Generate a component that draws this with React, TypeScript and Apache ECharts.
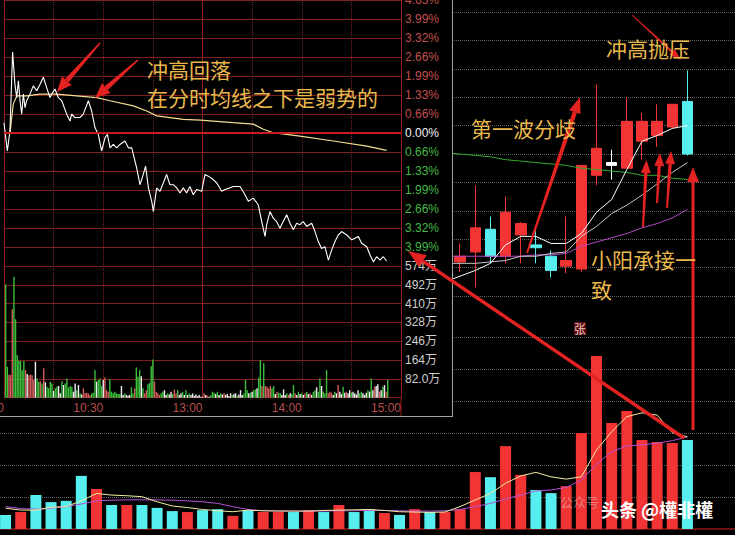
import React, { useEffect, useRef } from 'react';
import * as echarts from 'echarts';

// ================= intraday (分时) data =================
const timeTickLabels = ['09:30', '10:30', '13:00', '14:00', '15:00'];
// from bottom (min) to top (max); the bottom one is hidden (volume label sits there)
const pctTickLabels = ['', '3.99%', '3.32%', '2.66%', '1.99%', '1.33%', '0.66%', '0.00%', '0.66%', '1.33%', '1.99%', '2.66%', '3.32%', '3.99%', '4.65%'];
const volTickLabels = ['', '82.0万', '164万', '246万', '328万', '410万', '492万', '574万'];

const intraPriceMinutes = [0, 2.0, 3.6, 5.2, 6.6, 7.7, 8.7, 9.7, 10.7, 11.7, 12.7, 13.7, 15.7, 17.7, 19.8, 21.8, 23.8, 25.8, 27.8, 28.8, 30.8, 32.8, 34.9, 37.9, 39.9, 40.9, 42.9, 45.9, 47.9, 51.0, 53.0, 55.0, 57.0, 59.0, 61.1, 62.5, 64.1, 66.1, 68.1, 70.1, 73.1, 75.2, 77.2, 80.2, 82.2, 84.2, 85.6, 87.3, 89.3, 90.3, 92.3, 94.3, 96.3, 98.3, 100.3, 102.4, 104.4, 106.4, 108.4, 110.4, 112.4, 114.4, 116.5, 119.5, 121.5, 123.5, 126.5, 128.6, 131.6, 133.6, 136.6, 138.6, 142.7, 145.7, 147.7, 150.7, 153.7, 155.8, 157.8, 158.8, 160.8, 162.8, 164.8, 166.8, 168.8, 170.9, 172.9, 174.9, 176.9, 178.9, 180.9, 183.0, 186.0, 188.0, 190.0, 192.0, 194.0, 196.1, 198.1, 200.1, 202.1, 204.1, 207.2, 210.2, 212.2, 214.2, 216.2, 219.3, 221.3, 223.3, 225.3, 227.3, 229.3, 231.3];
const intraPricePct = [0.36, -0.63, 0.07, 2.83, 1.71, 1.24, 1.83, 1.13, 0.66, 1.36, 0.89, 1.13, 1.36, 1.65, 1.48, 1.71, 1.95, 1.59, 1.24, 1.36, 1.54, 1.24, 1.13, 0.66, 0.42, 0.66, 0.54, 0.54, 0.66, 1.13, 0.77, 0.19, -0.05, -0.63, -0.16, -0.05, -0.52, -0.40, -0.52, -0.40, -0.28, -0.52, -0.52, -1.22, -1.81, -1.45, -1.16, -1.92, -2.39, -2.75, -1.92, -2.04, -1.75, -1.45, -1.81, -1.81, -1.92, -2.10, -1.92, -2.10, -1.87, -2.16, -1.98, -2.04, -1.45, -1.51, -1.63, -1.75, -2.04, -1.98, -1.92, -1.87, -1.87, -2.16, -2.39, -2.28, -2.51, -3.10, -3.62, -3.21, -2.75, -2.98, -3.10, -3.33, -3.10, -2.86, -3.16, -3.39, -3.16, -3.21, -3.10, -3.27, -3.16, -3.45, -3.80, -4.04, -3.98, -4.45, -4.09, -3.80, -3.57, -3.45, -3.57, -3.74, -3.68, -3.62, -3.86, -3.98, -4.27, -4.51, -4.33, -4.45, -4.33, -4.48];

const intraAvgMinutes = [3.6, 5.6, 7.7, 13.7, 21.8, 31.9, 43.9, 56.0, 64.1, 78.2, 86.3, 92.3, 108.4, 118.5, 138.6, 150.7, 156.8, 162.8, 178.9, 199.1, 219.3, 231.3];
const intraAvgPct = [0.0, 1.01, 1.30, 1.30, 1.36, 1.36, 1.30, 1.24, 1.13, 0.95, 0.77, 0.60, 0.48, 0.45, 0.36, 0.31, 0.13, 0.01, -0.11, -0.28, -0.46, -0.61];

// per-minute volume (万), minute 1..232
const intraVol = [
  494, 135, 100, 100, 385, 527, 342, 186, 161, 160, 120, 160, 120, 103, 98, 101, 98, 77, 157, 84,
  70, 72, 62, 128, 67, 48, 41, 70, 62, 29, 41, 48, 51, 19, 72, 55, 62, 84, 45, 51,
  48, 26, 62, 33, 55, 19, 14, 41, 19, 22, 19, 12, 19, 22, 120, 70, 77, 84, 51, 77,
  88, 33, 26, 80, 26, 19, 26, 19, 16, 16, 51, 12, 19, 12, 9, 12, 45, 19, 41,
  132, 91, 120, 94, 41, 19, 33, 59, 65, 137, 166, 70, 26, 19, 12, 19, 26, 33, 12, 19,
  14, 26, 16, 36, 19, 33, 12, 19, 26, 12, 33, 12, 19, 12, 19, 9, 14, 7, 12, 4,
  4, 19, 12, 9, 4, 12, 26, 22, 16, 26, 12, 19, 14, 19, 12, 16, 7, 19, 12, 16,
  19, 9, 14, 33, 12, 19, 77, 33, 19, 22, 26, 33, 36, 41, 88, 164, 51, 150, 51, 48, 41,
  51, 41, 51, 16, 26, 22, 19, 12, 36, 12, 19, 12, 19, 16, 55, 19, 12, 26, 16, 19,
  12, 19, 26, 16, 19, 12, 26, 33, 45, 26, 84, 51, 26, 19, 120, 19, 26, 22, 12, 26,
  19, 55, 26, 16, 48, 22, 26, 19, 33, 22, 26, 19, 14, 33, 19, 26, 19, 12, 22, 33,
  26, 84, 33, 48, 51, 59, 26, 33, 48, 55, 26, 77,
];
// g = down (green), r = up (red), w = flat (white)
const intraVolDir =
  'ggrrrggggg' + 'ggrwrrrrwg' + 'grgrwggggw' + 'ggwwgwgggg' + 'gwwgwgwrrr' + 'rrgggwgggw' + 'rrrggggggg' + 'wwgwwwggr' +
  'gggwgrrggg' + 'grrrrggwwg' + 'wwgrrgwwgw' + 'gwgwwwwwww' + 'wrwrwgggwg' + 'wgwrwwwwgw' + 'wgwwwgggwg' + 'wggwggrgrr' + 'r' +
  'rggwrggwww' + 'grwggrwgwg' + 'wrgwrwggwg' + 'gwgggrrrwg' + 'wrwwgwrwwg' + 'wwwwggwwwg' + 'wgwrwwrwgw' + 'rg';

// ================= daily K-line data =================
const dayCategories = Array.from({ length: 46 }, (_, i) => 'K' + (i + 1));
const hiddenCandles = 30; // days behind the intraday inset
// [open, close, low, high] for days 31..46
const dayCandlesVisible = [
  [8.24, 8.28, 8.17, 8.37],
  [8.31, 8.48, 8.06, 8.78],
  [8.47, 8.28, 8.23, 8.56],
  [8.28, 8.59, 8.23, 8.70],
  [8.43, 8.51, 8.23, 8.52],
  [8.36, 8.34, 8.23, 8.49],
  [8.28, 8.18, 8.13, 8.32],
  [8.21, 8.25, 8.16, 8.56],
  [8.19, 8.92, 8.17, 8.92],
  [8.85, 9.04, 8.78, 9.49],
  [8.92, 8.94, 8.82, 9.03],
  [8.90, 9.23, 8.90, 9.40],
  [9.09, 9.23, 8.96, 9.29],
  [9.13, 9.23, 9.05, 9.35],
  [9.19, 9.35, 9.18, 9.35],
  [9.37, 9.00, 8.99, 9.59],
];
const dojiDay = 41;
const hiddenMa = 29; // MA lines start at day 30
const ma5Visible = [8.10, 8.14, 8.18, 8.23, 8.36, 8.42, 8.42, 8.37, 8.37, 8.44, 8.59, 8.68, 8.89, 9.09, 9.13, 9.18, 9.20];
const ma10Visible = [8.23, 8.23, 8.23, 8.24, 8.25, 8.28, 8.28, 8.30, 8.31, 8.42, 8.49, 8.58, 8.64, 8.71, 8.79, 8.87, 8.94];
const ma20Visible = [8.28, 8.28, 8.28, 8.28, 8.28, 8.28, 8.29, 8.29, 8.30, 8.35, 8.38, 8.41, 8.44, 8.48, 8.51, 8.55, 8.61];
const ma60Visible = [9.01, 9.00, 8.99, 8.98, 8.96, 8.95, 8.94, 8.93, 8.92, 8.90, 8.89, 8.88, 8.87, 8.85, 8.85, 8.83, 8.82];

const dayVol = [0.44, 0.53, 1.06, 0.84, 0.88, 1.66, 1.25, 0.75, 0.75, 0.75, 0.66, 0.56, 0.53, 0.59, 0.62, 0.41, 0.59, 0.53, 0.53, 0.53, 0.59, 0.53, 0.75, 0.53, 0.62, 0.50, 0.44, 0.62, 0.53, 0.53, 0.62, 1.78, 1.62, 2.59, 1.69, 1.22, 1.12, 1.34, 3.00, 5.41, 3.31, 3.69, 2.78, 2.72, 2.69, 2.78];
const dayVolDir = 'crccccrcrc' + 'ccrccrcrrc' + 'rcrccrcrcr' + 'rrcrrccrrr' + 'rrrrrc';
const dayVolMa5 = [0.65, 0.59, 0.59, 0.68, 0.70, 0.88, 1.11, 1.06, 1.04, 1.01, 0.85, 0.72, 0.67, 0.61, 0.57, 0.54, 0.59, 0.57, 0.56, 0.56, 0.56, 0.58, 0.59, 0.60, 0.61, 0.58, 0.54, 0.53, 0.52, 0.53, 0.70, 0.91, 1.11, 1.43, 1.66, 1.77, 1.63, 1.56, 1.63, 2.47, 3.04, 3.51, 3.63, 3.56, 3.01, 2.88];
const dayVolMa10 = [0.70, 0.64, 0.62, 0.65, 0.70, 0.78, 0.88, 0.90, 0.91, 0.91, 0.91, 0.90, 0.88, 0.85, 0.80, 0.70, 0.61, 0.57, 0.57, 0.56, 0.56, 0.56, 0.57, 0.57, 0.58, 0.58, 0.57, 0.56, 0.56, 0.57, 0.61, 0.70, 0.80, 0.94, 1.06, 1.19, 1.22, 1.30, 1.53, 2.02, 2.42, 2.59, 2.63, 2.68, 2.76, 2.88];

// ================= styles =================
const RED = '#f23434';
const CYAN = '#56eeee';
const GRID_RED = '#7e1e1e';
const GOLD = '#e9b84c';
const LABEL_FONT = '"Liberation Sans", Arial, "Noto Sans CJK SC", sans-serif';
const CJK_FONT = '"Noto Sans CJK SC", sans-serif';
const intraColor: Record<string, string> = { g: '#3cbf3c', r: '#d25c5c', w: '#f0f0f0' };

const hidden = { show: false };

function buildIntraOption() {
  const dottedX = (gridIndex: number) => ({
    gridIndex, type: 'value', min: 0, max: 240, interval: 30,
    axisLine: hidden, axisTick: hidden, axisLabel: hidden,
    splitLine: { show: true, lineStyle: { color: GRID_RED, type: 'dotted', width: 1 } },
  });
  const solidX = (gridIndex: number) => ({
    gridIndex, type: 'value', min: 0, max: 240, interval: 120,
    axisLine: hidden, axisTick: hidden, axisLabel: hidden,
    splitLine: { show: true, lineStyle: { color: '#941f1f', type: 'solid', width: 1 } },
  });
  return {
    backgroundColor: '#000',
    animation: false,
    grid: [
      { left: 4, top: 0, width: 397, height: 266, containLabel: false, outerBoundsMode: 'none' },
      { left: 4, top: 266, width: 397, height: 131.7, containLabel: false, outerBoundsMode: 'none' },
    ],
    xAxis: [
      dottedX(0),
      solidX(0),
      dottedX(1),
      solidX(1),
      {
        gridIndex: 1, type: 'value', min: 0, max: 240, interval: 60, position: 'bottom',
        axisLine: hidden, axisTick: hidden, splitLine: hidden,
        axisLabel: {
          show: true, align: 'right', margin: 4, fontSize: 12, fontFamily: LABEL_FONT, color: '#b84c4c',
          formatter: (v: number) => timeTickLabels[Math.round(v / 60)] ?? '',
        },
      },
    ],
    yAxis: [
      {
        gridIndex: 0, type: 'value', min: -4.655, max: 4.655, interval: 0.665, position: 'right',
        axisLine: hidden, axisTick: hidden,
        axisLabel: {
          show: true, margin: 4, fontSize: 12, fontFamily: LABEL_FONT, align: 'left',
          formatter: (v: number) => pctTickLabels[Math.round((v + 4.655) / 0.665)] ?? '',
          color: (v: any) => {
            const n = parseFloat(v);
            return n > 0.01 ? '#c4504e' : n < -0.01 ? '#45b845' : '#f2f2f2';
          },
        },
        splitLine: { show: true, lineStyle: { color: GRID_RED, width: 1 } },
      },
      {
        gridIndex: 1, type: 'value', min: 0, max: 574, interval: 82, position: 'right',
        axisLine: hidden, axisTick: hidden,
        axisLabel: {
          show: true, margin: 4, fontSize: 12, fontFamily: LABEL_FONT, align: 'left', color: '#cfcfcf',
          formatter: (v: number) => volTickLabels[Math.round(v / 82)] ?? '',
        },
        splitLine: { show: true, lineStyle: { color: GRID_RED, width: 1 } },
      },
    ],
    series: [
      {
        type: 'bar', xAxisIndex: 2, yAxisIndex: 1, barWidth: 1.4, silent: true,
        data: intraVol.map((v, i) => ({ value: [i + 1, v], itemStyle: { color: intraColor[intraVolDir[i]] } })),
      },
      {
        type: 'line', xAxisIndex: 0, yAxisIndex: 0, symbol: 'none', silent: true, z: 3,
        data: intraAvgMinutes.map((m, i) => [m, intraAvgPct[i]]),
        lineStyle: { color: '#f2de92', width: 1.2 },
        markLine: {
          silent: true, symbol: ['none', 'none'], label: { show: false },
          lineStyle: { color: '#c81c1c', width: 2, type: 'solid' },
          data: [{ yAxis: 0 }],
        },
      },
      {
        type: 'line', xAxisIndex: 0, yAxisIndex: 0, symbol: 'none', silent: true, z: 4,
        data: intraPriceMinutes.map((m, i) => [m, intraPricePct[i]]),
        lineStyle: { color: '#ffffff', width: 1.1 },
      },
    ],
    graphic: [
      { type: 'line', silent: true, shape: { x1: 401, y1: 397, x2: 401, y2: 416 }, style: { stroke: '#941f1f', lineWidth: 1 } },
    ],
  };
}

function buildDayOption() {
  const candles = [
    ...Array(hiddenCandles).fill('-'),
    ...dayCandlesVisible.map((c, i) =>
      i + hiddenCandles + 1 === dojiDay
        ? { value: c, itemStyle: { color: '#ffffff', color0: '#ffffff', borderColor: '#ffffff', borderColor0: '#ffffff' } }
        : c,
    ),
  ];
  const pad = (arr: number[]) => [...Array(hiddenMa).fill('-'), ...arr];
  const maLine = (data: any[], color: string, width = 1) => ({
    type: 'line', xAxisIndex: 1, yAxisIndex: 1, symbol: 'none', silent: true, z: 4,
    data, lineStyle: { color, width },
  });
  const dotted = { show: true, lineStyle: { color: '#606060', type: 'dotted', width: 1 } };
  return {
    backgroundColor: '#000',
    animation: false,
    grid: [
      { left: 0, right: 0, top: 12, height: 284, containLabel: false, outerBoundsMode: 'none' },
      { left: -2, right: 40, top: 12, height: 284, containLabel: false, outerBoundsMode: 'none' },
      { left: 0, right: 0, top: 337, height: 192, containLabel: false, outerBoundsMode: 'none' },
      { left: -2, right: 40, top: 337, height: 192, containLabel: false, outerBoundsMode: 'none' },
    ],
    xAxis: [
      { gridIndex: 0, type: 'value', min: 0, max: 1, show: false },
      { gridIndex: 1, type: 'category', data: dayCategories, show: false },
      {
        gridIndex: 2, type: 'value', min: 0, max: 1, position: 'top',
        axisLine: { show: true, lineStyle: { color: '#961c1c', width: 1 } },
        axisTick: hidden, axisLabel: hidden, splitLine: hidden,
      },
      {
        gridIndex: 2, type: 'value', min: 0, max: 1, position: 'bottom',
        axisLine: { show: true, lineStyle: { color: '#6a1212', width: 2 } },
        axisTick: hidden, axisLabel: hidden, splitLine: hidden,
      },
      { gridIndex: 3, type: 'category', data: dayCategories, show: false },
    ],
    yAxis: [
      { gridIndex: 0, type: 'value', min: 8, max: 10, interval: 0.2, axisLine: hidden, axisTick: hidden, axisLabel: hidden, splitLine: dotted },
      { gridIndex: 1, type: 'value', min: 8, max: 10, show: false },
      { gridIndex: 2, type: 'value', min: 0, max: 6, interval: 1, axisLine: hidden, axisTick: hidden, axisLabel: hidden, splitLine: dotted },
      { gridIndex: 3, type: 'value', min: 0, max: 6, show: false },
    ],
    series: [
      {
        type: 'candlestick', xAxisIndex: 1, yAxisIndex: 1, barWidth: 11, silent: true, z: 3,
        itemStyle: { color: RED, color0: CYAN, borderColor: RED, borderColor0: CYAN, borderWidth: 1 },
        data: candles,
      },
      maLine(pad(ma60Visible), '#34a834'),
      maLine(pad(ma20Visible), '#b546c8'),
      maLine(pad(ma10Visible), '#dcdcdc', 0.9),
      maLine(pad(ma5Visible), '#ffffff'),
      {
        type: 'bar', xAxisIndex: 4, yAxisIndex: 3, barWidth: 11, silent: true,
        data: dayVol.map((v, i) => ({ value: v, itemStyle: { color: dayVolDir[i] === 'r' ? RED : CYAN } })),
      },
      {
        type: 'line', xAxisIndex: 4, yAxisIndex: 3, symbol: 'none', silent: true, z: 4,
        data: dayVolMa10, lineStyle: { color: '#b552d8', width: 1 },
      },
      {
        type: 'line', xAxisIndex: 4, yAxisIndex: 3, symbol: 'none', silent: true, z: 5,
        data: dayVolMa5, lineStyle: { color: '#f2eca0', width: 1 },
      },
    ],
  };
}

// ================= annotations =================
type ArrowSpec = [number, number, number, number, number, number, number, number];
// tailX, tailY, tipX, tipY, tailWidth, baseWidth, headLength, headWidth
const arrowSpecs: ArrowSpec[] = [
  [100, 43, 57, 92, 1.5, 5, 15, 13],
  [138, 60, 95, 98, 1.5, 5, 15, 13],
  [684, 438, 408, 251, 3.5, 3.5, 18, 14],
  [527, 253, 580, 97, 2, 4.5, 16, 12],
  [632, 15, 681, 60, 1, 2.5, 12, 8],
  [643, 227, 646.5, 160, 2, 3.5, 13, 10],
  [657, 203, 660, 153, 2, 3.5, 13, 10],
  [667, 208, 671, 151, 2, 3.5, 13, 10],
  [693, 430, 693, 167, 3, 3, 15, 12],
];

function arrowEls(s: ArrowSpec, color: string) {
  const [x1, y1, x2, y2, w1, w2, hl, hw] = s;
  const dx = x2 - x1, dy = y2 - y1;
  const len = Math.hypot(dx, dy);
  const ux = dx / len, uy = dy / len;
  const nx = -uy, ny = ux;
  const bx = x2 - ux * hl, by = y2 - uy * hl;
  return [
    {
      type: 'polygon', silent: true, z: 10,
      shape: { points: [[x1 + nx * w1 / 2, y1 + ny * w1 / 2], [bx + nx * w2 / 2, by + ny * w2 / 2], [bx - nx * w2 / 2, by - ny * w2 / 2], [x1 - nx * w1 / 2, y1 - ny * w1 / 2]] },
      style: { fill: color },
    },
    {
      type: 'polygon', silent: true, z: 10,
      shape: { points: [[x2, y2], [bx + nx * hw / 2, by + ny * hw / 2], [bx - nx * hw / 2, by - ny * hw / 2]] },
      style: { fill: color },
    },
  ];
}

function txt(text: string, x: number, y: number, size: number, fill: string, weight = 'normal', z = 20) {
  return {
    type: 'text', x, y, silent: true, z,
    style: {
      text, fill, fontSize: size, fontFamily: CJK_FONT, fontWeight: weight,
      align: 'left', verticalAlign: 'middle', textAlign: 'left', textVerticalAlign: 'middle',
    },
  };
}

function buildOverlayOption() {
  const elements: any[] = [];
  arrowSpecs.forEach((s) => elements.push(...arrowEls(s, '#e42222')));
  elements.push(txt('冲高回落', 147, 69, 21, GOLD));
  elements.push(txt('在分时均线之下是弱势的', 147, 97, 21, GOLD));
  elements.push(txt('第一波分歧', 471, 128, 21, GOLD));
  elements.push(txt('冲高抛压', 606, 48, 21, GOLD));
  elements.push(txt('小阳承接一', 591, 259, 21, GOLD));
  elements.push(txt('致', 591, 289, 21, GOLD));
  elements.push({ type: 'rect', silent: true, z: 15, shape: { x: 574, y: 322, width: 12, height: 13 }, style: { fill: '#5c0d0d' } });
  elements.push({
    type: 'text', x: 580, y: 328.5, silent: true, z: 16,
    style: { text: '张', fill: '#f4c6c6', fontSize: 12, fontFamily: CJK_FONT, align: 'center', verticalAlign: 'middle', textAlign: 'center', textVerticalAlign: 'middle' },
  });
  elements.push(txt('公众号', 560, 501, 13, 'rgba(215,215,215,0.45)', 'normal', 18));
  elements.push({
    type: 'text', x: 601, y: 509, silent: true, z: 22,
    style: {
      text: '头条 @權非權', fill: '#ffffff', fontSize: 18, fontFamily: CJK_FONT, fontWeight: 'bold',
      align: 'left', verticalAlign: 'middle', textAlign: 'left', textVerticalAlign: 'middle',
      shadowColor: 'rgba(0,0,0,0.8)', shadowBlur: 3,
    },
  });
  return { backgroundColor: 'transparent', animation: false, graphic: { elements } };
}

export default function App() {
  const dayRef = useRef<HTMLDivElement>(null);
  const intraRef = useRef<HTMLDivElement>(null);
  const overRef = useRef<HTMLDivElement>(null);

  useEffect(() => {
    const day = echarts.init(dayRef.current!, undefined, { renderer: 'svg' });
    day.setOption(buildDayOption() as any);
    const intra = echarts.init(intraRef.current!, undefined, { renderer: 'svg' });
    intra.setOption(buildIntraOption() as any);
    const over = echarts.init(overRef.current!, undefined, { renderer: 'svg' });
    over.setOption(buildOverlayOption() as any);
    return () => {
      day.dispose();
      intra.dispose();
      over.dispose();
    };
  }, []);

  return (
    <div style={{ position: 'fixed', left: 0, top: 0, width: 735, height: 535, background: '#000', overflow: 'hidden' }}>
      <div ref={dayRef} style={{ position: 'absolute', left: 0, top: 0, width: 735, height: 535 }} />
      <div
        style={{
          position: 'absolute', left: 0, top: 0, width: 452, height: 416, background: '#000',
          borderRight: '1px solid #a4a4a4', borderBottom: '1px solid #a4a4a4',
        }}
      >
        <div ref={intraRef} style={{ width: 452, height: 416 }} />
      </div>
      <div ref={overRef} style={{ position: 'absolute', left: 0, top: 0, width: 735, height: 535, pointerEvents: 'none' }} />
    </div>
  );
}
